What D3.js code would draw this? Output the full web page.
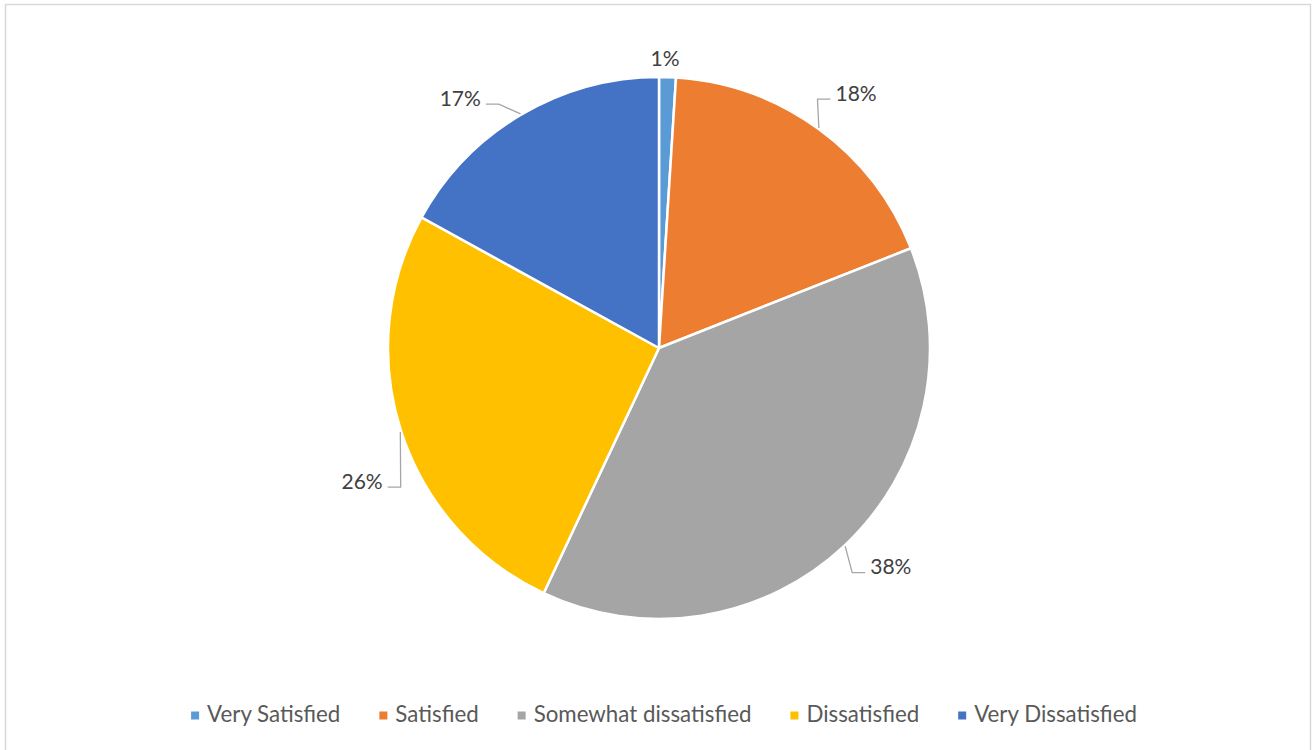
<!DOCTYPE html>
<html>
<head>
<meta charset="utf-8">
<script src="https://cdn.jsdelivr.net/npm/d3@7"></script>
<style>
  html, body { margin: 0; padding: 0; background: #fff; }
  svg { display: block; }
  text { font-family: Lato, "Open Sans", "Liberation Sans", sans-serif; }
</style>
</head>
<body>
<svg id="chart" width="1316" height="750"></svg>
<script>
// Satisfaction survey shares (percent)
const categories = ["Very Satisfied", "Satisfied", "Somewhat dissatisfied", "Dissatisfied", "Very Dissatisfied"];
const values = [1, 18, 38, 26, 17];
const colors = ["#5B9BD5", "#ED7D31", "#A5A5A5", "#FFC000", "#4472C4"];

const W = 1316, H = 750;
const cx = 659, cy = 348, R = 271;

const svg = d3.select("#chart");

// chart area frame
svg.append("rect")
  .attr("x", 5.5).attr("y", 4.5)
  .attr("width", 1305).attr("height", 760)
  .attr("fill", "#fff")
  .attr("stroke", "#d9d9d9").attr("stroke-width", 1.5);

const pie = d3.pie().sort(null).value(d => d).startAngle(0).endAngle(2 * Math.PI);
const arcs = pie(values);
const arc = d3.arc().innerRadius(0).outerRadius(R);

const g = svg.append("g").attr("transform", `translate(${cx},${cy})`);

g.selectAll("path.slice")
  .data(arcs)
  .join("path")
  .attr("class", "slice")
  .attr("d", arc)
  .attr("fill", (d, i) => colors[i])
  .attr("stroke", "#fff")
  .attr("stroke-width", 2.5)
  .attr("stroke-linejoin", "round");

// label placement: polar offset from each slice's mid-angle (degrees / px)
const labelTurn = [-0.6, 1.6, -3.6, -6, -7.8];
const labelDist = [291, 323, 318, 325, 320];
const withLeader = [false, true, true, true, true];

const polar = (a, r) => [r * Math.sin(a), -r * Math.cos(a)];

const labels = g.append("g");
arcs.forEach((d, i) => {
  const mid = (d.startAngle + d.endAngle) / 2;
  const a = mid + labelTurn[i] * Math.PI / 180;
  const [lx, ly] = polar(a, labelDist[i]);
  const t = labels.append("text")
    .attr("x", lx).attr("y", ly)
    .attr("text-anchor", "middle")
    .attr("dominant-baseline", "central")
    .attr("font-size", 21)
    .attr("fill", "#404040")
    .text(d3.format(".0%")(values[i] / d3.sum(values)));
  if (!withLeader[i]) return;
  const w = t.node().getComputedTextLength();
  const right = lx > 0;
  const endX = right ? lx - w / 2 - 5 : lx + w / 2 + 5;
  const elbowX = right ? endX - 13 : endX + 13;
  const lineY = ly + 7;
  const [sx, sy] = polar(mid, R + 1);
  labels.insert("path", "text")
    .attr("d", `M${sx},${sy}L${elbowX},${lineY}L${endX},${lineY}`)
    .attr("fill", "none")
    .attr("stroke", "#a6a6a6")
    .attr("stroke-width", 1.3);
});

// legend along the bottom
const legend = svg.append("g");
const items = legend.selectAll("g.item")
  .data(categories)
  .join("g")
  .attr("class", "item");
items.append("rect")
  .attr("width", 8).attr("height", 8)
  .attr("y", 711.5)
  .attr("fill", (d, i) => colors[i]);
items.append("text")
  .attr("x", 16).attr("y", 722)
  .attr("font-size", 22.3)
  .attr("fill", "#595959")
  .text(d => d);

const gap = 39;
const widths = [];
items.each(function () {
  widths.push(16 + d3.select(this).select("text").node().getComputedTextLength());
});
const total = d3.sum(widths) + gap * (widths.length - 1);
let x = 664 - total / 2;
items.attr("transform", (d, i) => {
  const tx = x;
  x += widths[i] + gap;
  return `translate(${tx},0)`;
});
</script>
</body>
</html>
